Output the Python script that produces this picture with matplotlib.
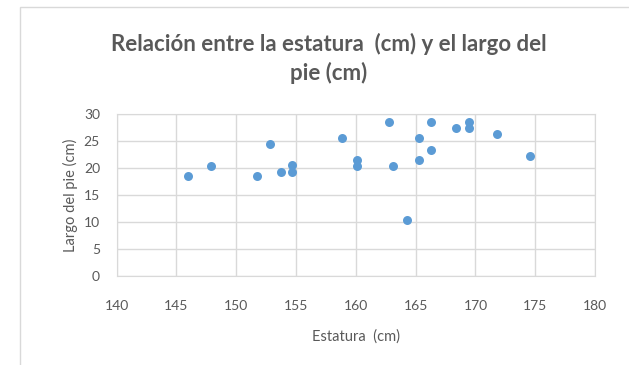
import matplotlib.pyplot as plt
from matplotlib.patches import Rectangle

# Estatura (cm) vs largo del pie (cm)
estatura = [146.0, 147.9, 151.7, 152.8, 153.7, 154.7, 154.7, 158.8, 160.1, 160.1,
            162.8, 163.1, 164.3, 165.3, 165.3, 166.3, 166.3, 168.4, 169.5, 169.5,
            171.8, 174.6]
largo_pie = [18.5, 20.4, 18.5, 24.5, 19.2, 20.5, 19.3, 25.5, 21.5, 20.4,
             28.5, 20.4, 10.4, 25.6, 21.5, 28.5, 23.3, 27.4, 28.5, 27.4,
             26.3, 22.2]

x_ticks = list(range(140, 181, 5))
y_ticks = list(range(0, 31, 5))

plt.rcParams["font.family"] = ["Lato", "DejaVu Sans"]
text_color = "#595959"
grid_color = "#d9d9d9"

fig = plt.figure(figsize=(6.29, 3.65), dpi=100)

# chart frame
fig.patches.append(Rectangle((20 / 629, -0.1), 1.2, (365 - 7) / 365 + 0.1,
                             transform=fig.transFigure, fill=False,
                             edgecolor=grid_color, linewidth=1.0))

ax = fig.add_axes([0.1855, 0.2438, 0.7605, 0.4439])
ax.scatter(estatura, largo_pie, s=42, color="#5B9BD5", zorder=3, linewidths=0)

ax.set_xlim(140, 180)
ax.set_ylim(0, 30)
ax.set_xticks(x_ticks)
ax.set_yticks(y_ticks)
ax.grid(True, color=grid_color, linewidth=1.0)
ax.set_axisbelow(True)
for s in ax.spines.values():
    s.set_color(grid_color)
ax.tick_params(length=0, labelsize=10, colors=text_color)
ax.tick_params(axis="x", pad=17)
ax.tick_params(axis="y", pad=12)

ax.set_xlabel("Estatura  (cm)", fontsize=10.5, color=text_color, labelpad=13)
ax.set_ylabel("Largo del pie (cm)", fontsize=10.5, color=text_color, labelpad=4)

fig.text(0.522, 0.84, "Relación entre la estatura  (cm) y el largo del\npie (cm)",
         ha="center", va="center", fontsize=16, fontweight="bold",
         color=text_color, linespacing=1.4)

fig.savefig("out.png", dpi=100)
